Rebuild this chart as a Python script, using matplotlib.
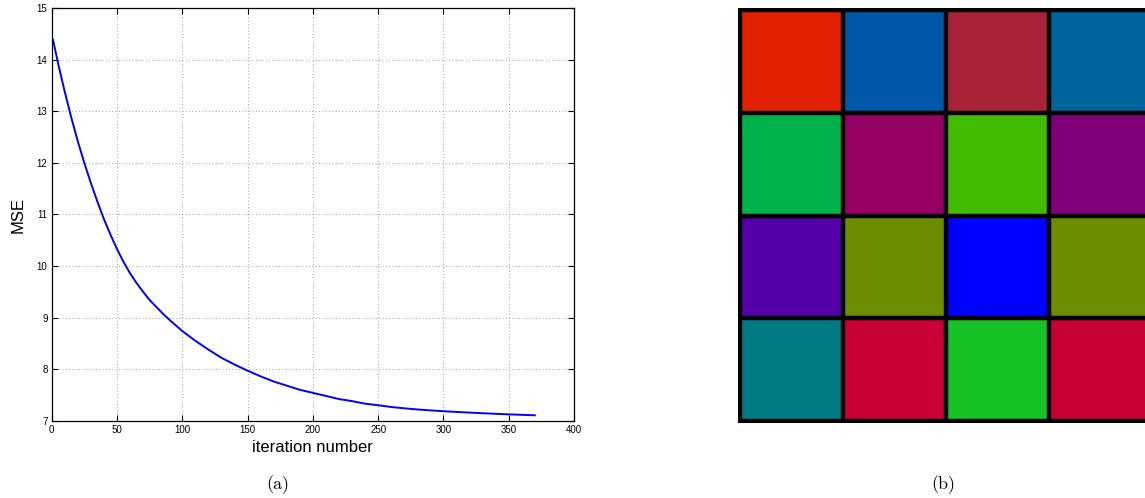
import matplotlib.pyplot as plt
import numpy as np

# (a) MSE per iteration
iters = [1, 5, 10, 15, 20, 25, 30, 35, 40, 45, 50, 55, 60, 65, 70, 75, 80,
         85, 90, 95, 100, 110, 120, 130, 140, 150, 160, 170, 180, 190, 200,
         210, 220, 230, 240, 250, 260, 270, 280, 290, 300, 310, 320, 330,
         340, 350, 360, 370]
mse = [14.39, 13.92, 13.38, 12.88, 12.42, 12.00, 11.61, 11.25, 10.91, 10.61,
       10.33, 10.08, 9.86, 9.67, 9.50, 9.34, 9.21, 9.08, 8.96, 8.85, 8.74,
       8.55, 8.38, 8.22, 8.09, 7.97, 7.86, 7.76, 7.68, 7.60, 7.54, 7.48,
       7.42, 7.38, 7.33, 7.30, 7.266, 7.24, 7.218, 7.20, 7.184, 7.170,
       7.157, 7.145, 7.134, 7.123, 7.114, 7.105]
xticks = [0, 50, 100, 150, 200, 250, 300, 350, 400]
yticks = [7, 8, 9, 10, 11, 12, 13, 14, 15]

# (b) 4x4 colour patches, row by row from the top
row1 = ["#e02000", "#0057a8", "#a82337", "#00639c"]
row2 = ["#00b24c", "#950063", "#42ba00", "#80007a"]
row3 = ["#5300a8", "#6e8c00", "#0000ff", "#6e8c00"]
row4 = ["#007a82", "#c80034", "#16c226", "#c80034"]
patch_rows = [row1, row2, row3, row4]

W, H = 1145, 498
fig = plt.figure(figsize=(W / 100, H / 100), dpi=100)

# --- left panel: MSE curve
ax = fig.add_axes([51.7 / W, 1 - 420.7 / H, 522.3 / W, 412.4 / H])
ax.plot(iters, mse, color="blue", lw=1.4, solid_joinstyle="round")
ax.set_xlim(0, 400)
ax.set_ylim(7, 15)
ax.set_xticks(xticks)
ax.set_yticks(yticks)
ax.tick_params(direction="in", top=True, right=True, length=4, width=0.8,
               labelsize=7, pad=3)
for lab in ax.get_xticklabels() + ax.get_yticklabels():
    lab.set_fontfamily("Liberation Sans")
ax.grid(True, color="#808080", linestyle=(0, (1, 3)), linewidth=0.6)
for s in ax.spines.values():
    s.set_linewidth(0.9)
ax.set_xlabel("iteration number", fontsize=12, family="Liberation Sans", labelpad=4)
ax.set_ylabel("MSE", fontsize=12, family="Liberation Sans", labelpad=8)
fig.text(278 / W, 1 - 485 / H, "(a)", fontsize=13, family="cmr10",
         ha="center", va="center")

# --- right panel: colour grid (runs past the right edge of the page)
axb = fig.add_axes([738 / W, 1 - 423.3 / H, 416 / W, 415.3 / H])
rgb = np.array([[plt.matplotlib.colors.to_rgb(c) for c in r] for r in patch_rows])
axb.imshow(rgb, extent=(0, 4, 4, 0), interpolation="nearest", aspect="auto")
for k in range(5):
    axb.axhline(k, color="black", lw=3.2)
    axb.axvline(k, color="black", lw=3.2)
axb.set_xlim(-0.02, 4.02)
axb.set_ylim(4.02, -0.02)
axb.set_axis_off()
fig.text(943 / W, 1 - 485 / H, "(b)", fontsize=13, family="cmr10",
         ha="center", va="center")

fig.savefig("out.png", dpi=100)
